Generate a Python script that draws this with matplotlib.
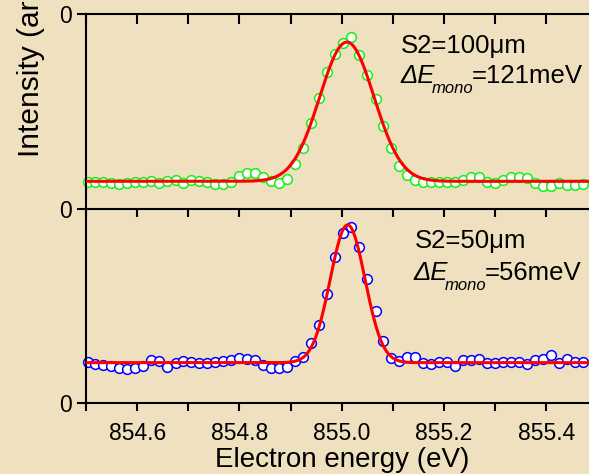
import numpy as np
import matplotlib
matplotlib.use('Agg')
import matplotlib.pyplot as plt
from matplotlib.ticker import MultipleLocator, FixedLocator, FormatStrFormatter
from matplotlib.transforms import offset_copy

plt.rcParams['font.family'] = ['Liberation Sans', 'DejaVu Sans']

# electron energy of each measured point (eV)
energy = [854.503, 854.518, 854.534, 854.549, 854.565, 854.581, 854.596, 854.612,
          854.628, 854.643, 854.659, 854.675, 854.690, 854.706, 854.721, 854.737,
          854.753, 854.768, 854.784, 854.800, 854.815, 854.831, 854.847, 854.862,
          854.878, 854.893, 854.909, 854.925, 854.940, 854.956, 854.972, 854.987,
          855.003, 855.019, 855.034, 855.050, 855.066, 855.081, 855.097, 855.112,
          855.128, 855.144, 855.159, 855.175, 855.191, 855.206, 855.222, 855.238,
          855.253, 855.269, 855.284, 855.300, 855.316, 855.331, 855.347, 855.363,
          855.378, 855.394, 855.410, 855.425, 855.441, 855.456, 855.472]

# S2 = 100 um
int_100 = [0.140, 0.140, 0.140, 0.132, 0.127, 0.135, 0.140, 0.140, 0.145, 0.132,
           0.145, 0.149, 0.132, 0.149, 0.144, 0.140, 0.128, 0.127, 0.140, 0.171,
           0.186, 0.183, 0.166, 0.146, 0.133, 0.154, 0.233, 0.314, 0.439, 0.571,
           0.701, 0.795, 0.853, 0.881, 0.790, 0.689, 0.563, 0.427, 0.311, 0.222,
           0.174, 0.149, 0.140, 0.140, 0.140, 0.140, 0.140, 0.149, 0.163, 0.166,
           0.140, 0.132, 0.149, 0.163, 0.163, 0.157, 0.135, 0.118, 0.118, 0.135,
           0.123, 0.123, 0.128]

# S2 = 50 um
int_50 = [0.210, 0.201, 0.196, 0.191, 0.182, 0.175, 0.182, 0.191, 0.222, 0.216,
          0.187, 0.205, 0.215, 0.211, 0.205, 0.205, 0.211, 0.216, 0.222, 0.230,
          0.227, 0.220, 0.198, 0.182, 0.182, 0.183, 0.218, 0.236, 0.308, 0.402,
          0.560, 0.754, 0.875, 0.909, 0.806, 0.639, 0.474, 0.321, 0.230, 0.219,
          0.237, 0.237, 0.207, 0.199, 0.210, 0.209, 0.191, 0.223, 0.222, 0.225,
          0.205, 0.205, 0.210, 0.210, 0.210, 0.201, 0.220, 0.226, 0.247, 0.207,
          0.226, 0.211, 0.209]

# gaussian fit parameters: baseline, amplitude, center, sigma
fit_100 = (0.142, 0.714, 855.010, 0.0531)
fit_50 = (0.208, 0.710, 855.0115, 0.0340)

slit_labels = ['S2=100\u03bcm', 'S2=50\u03bcm']
res_labels = ['=121meV', '=56meV']

W, H = 589, 474
fig = plt.figure(figsize=(W / 100, H / 100), dpi=100)
fig.patch.set_facecolor('#efe1bf')

left = 86 / W
width = 511.5 / W


def make_axes(top_px, bottom_px):
    ax = fig.add_axes([left, 1 - bottom_px / H, width, (bottom_px - top_px) / H])
    ax.set_facecolor('none')
    ax.set_xlim(854.5, 855.5)
    ax.set_ylim(0, 1)
    ax.set_yticks([0])
    for s in ['top', 'right']:
        ax.spines[s].set_visible(False)
    for s in ['left', 'bottom']:
        ax.spines[s].set_linewidth(1.5)
    ax.xaxis.set_major_locator(FixedLocator([854.6, 854.8, 855.0, 855.2, 855.4]))
    ax.xaxis.set_minor_locator(MultipleLocator(0.1))
    ax.tick_params(axis='both', which='both', direction='out', width=1.5,
                   labelsize=16.5, colors='black')
    ax.tick_params(axis='x', which='both', length=6)
    ax.tick_params(axis='y', length=6.5, pad=3.5)
    return ax


# panel above (cropped off the picture)
ax0 = make_axes(14 - 195, 14)
ax0.spines['left'].set_visible(False)
ax0.tick_params(axis='x', which='both', length=7, labelbottom=False)

ax1 = make_axes(14, 209)
ax1.tick_params(axis='x', which='both', labelbottom=False)
ax2 = make_axes(209, 403)
ax2.tick_params(axis='x', which='both', pad=8)
ax2.xaxis.set_major_formatter(FormatStrFormatter('%.1f'))

xf = np.linspace(854.5, 855.5, 600)
for ax, y, fit, col in [(ax1, int_100, fit_100, '#14f014'), (ax2, int_50, fit_50, '#0000ff')]:
    ax.plot(energy, y, 'o', ms=7, mfc='white', mec=col, mew=1.1, zorder=2,
            clip_on=False)
    b, a, c, s = fit
    ax.plot(xf, b + a * np.exp(-0.5 * ((xf - c) / s) ** 2), color='red', lw=2.2,
            zorder=3)

ax2.set_xlabel('Electron energy (eV)', fontsize=20, labelpad=1)

# annotation anchors (axes fraction): slit line, resolution line
anchors = [((0.615, 0.802), (0.615, 0.646)), ((0.643, 0.797), (0.641, 0.634))]
for ax, slit, res, (p1, p2) in zip([ax1, ax2], slit_labels, res_labels, anchors):
    ax.text(p1[0], p1[1], slit, transform=ax.transAxes, fontsize=18.5,
            va='baseline', ha='left')
    t = ax.transAxes
    ax.text(p2[0], p2[1], '\u0394E', transform=t, fontsize=18.5, style='italic',
            va='baseline', ha='left')
    ax.text(p2[0], p2[1], 'mono', fontsize=12, style='italic', va='baseline',
            ha='left', transform=offset_copy(t, fig=fig, x=31, y=-10, units='dots'))
    ax.text(p2[0], p2[1], res, fontsize=18.5, va='baseline', ha='left',
            transform=offset_copy(t, fig=fig, x=71, y=0, units='dots'))

fig.text(31 / W, 1 - 157 / H, 'Intensity (arb. units)', rotation=90,
         fontsize=21.5, ha='center', va='bottom')

fig.savefig('out.png', dpi=100, facecolor=fig.get_facecolor())
